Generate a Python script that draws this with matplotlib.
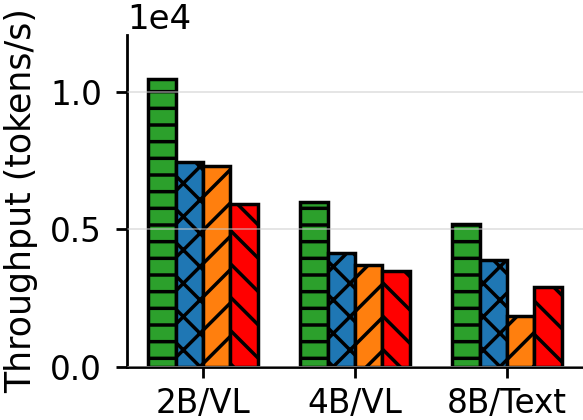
import numpy as np
import matplotlib
matplotlib.use("Agg")
import matplotlib.pyplot as plt

# data (tokens/s)
models = ["2B/VL", "4B/VL", "8B/Text"]
green_vals = [10470, 6000, 5200]
blue_vals = [7450, 4150, 3890]
orange_vals = [7300, 3700, 1850]
red_vals = [5930, 3490, 2910]

series = [green_vals, blue_vals, orange_vals, red_vals]
colors = ["#2ca02c", "#1f77b4", "#ff7f0e", "#ff0000"]
hatches = ["-", "x", "/", "\\"]

plt.rcParams["hatch.linewidth"] = 2.5
plt.rcParams["font.size"] = 23.5

fig = plt.figure(figsize=(5.83, 4.2), dpi=100)
ax = fig.add_axes([0.218, 0.126, 0.782, 0.791])

x = np.arange(len(models))
w = 0.18
for i, vals in enumerate(series):
    ax.bar(x + (i - 1.5) * w, vals, w, color=colors[i], hatch=hatches[i],
           edgecolor="black", linewidth=2.5, zorder=2)

ax.set_xticks(x)
ax.set_xticklabels(models)
ax.set_xlim(-0.5, 2.5)
ax.set_ylim(0, 12070)
ax.set_yticks([0, 5000, 10000])
ax.ticklabel_format(axis="y", style="sci", scilimits=(0, 0))
ax.yaxis.OFFSETTEXTPAD = 4
ax.yaxis.get_offset_text().set_fontsize(24.5)
ax.set_ylabel("Throughput (tokens/s)", fontsize=25, labelpad=9)
ax.yaxis.grid(True, color="#cccccc", alpha=0.6, linewidth=1.2, zorder=3)
ax.set_axisbelow(False)

for s in ["top", "right"]:
    ax.spines[s].set_visible(False)
for s in ["left", "bottom"]:
    ax.spines[s].set_linewidth(2)
ax.tick_params(width=2, length=8)
ax.tick_params(axis="y", pad=10)
ax.tick_params(axis="x", pad=6)

fig.savefig("out.png", dpi=100)
